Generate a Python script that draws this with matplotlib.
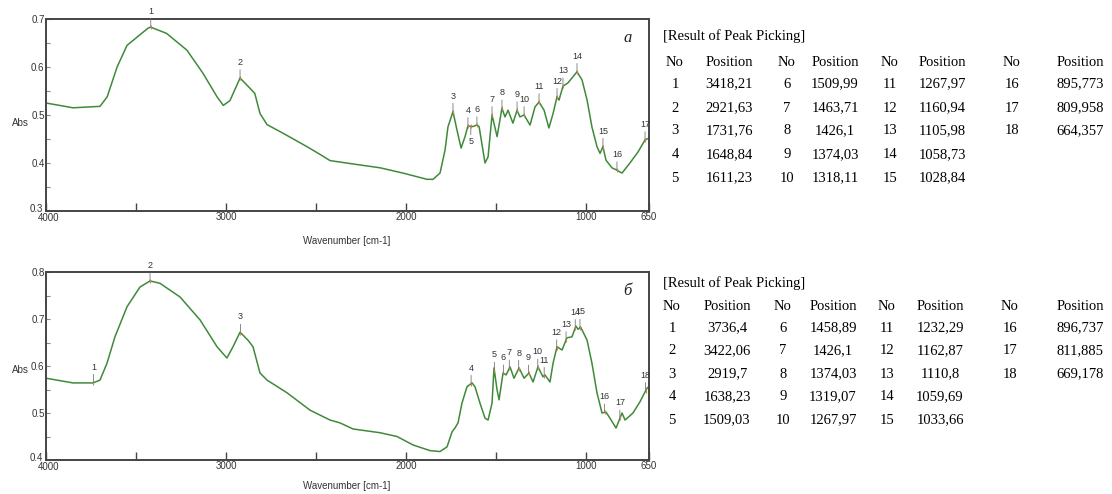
import numpy as np
import matplotlib
matplotlib.use("Agg")
import matplotlib.pyplot as plt
from matplotlib.transforms import ScaledTranslation

# ---------------- data ----------------
wn_a = [4000, 3850, 3700, 3660, 3605, 3550, 3433, 3418, 3330, 3217, 3128, 3050, 3015, 2978,
        2922, 2878, 2840, 2811, 2772, 2683, 2550, 2478, 2422, 2294, 2144, 2017, 1883, 1850,
        1811, 1783, 1767, 1739, 1717, 1694, 1672, 1656, 1628, 1606, 1594, 1561, 1544, 1522,
        1494, 1467, 1450, 1433, 1406, 1383, 1367, 1344, 1311, 1283, 1261, 1233, 1206, 1183,
        1161, 1150, 1128, 1100, 1050, 1022, 994, 967, 939, 922, 906, 889, 856, 828, 800,
        756, 711, 672, 650]
abs_a = [0.525, 0.515, 0.518, 0.538, 0.600, 0.645, 0.681, 0.683, 0.670, 0.635, 0.587, 0.538,
         0.520, 0.530, 0.577, 0.560, 0.545, 0.503, 0.480, 0.462, 0.434, 0.418, 0.405, 0.398,
         0.390, 0.379, 0.366, 0.366, 0.379, 0.427, 0.475, 0.507, 0.469, 0.431, 0.455, 0.477,
         0.476, 0.479, 0.476, 0.400, 0.413, 0.500, 0.455, 0.514, 0.496, 0.510, 0.483, 0.510,
         0.496, 0.500, 0.479, 0.517, 0.527, 0.510, 0.473, 0.503, 0.538, 0.531, 0.560, 0.567,
         0.590, 0.573, 0.531, 0.475, 0.434, 0.420, 0.434, 0.406, 0.390, 0.385, 0.379, 0.400,
         0.423, 0.448, 0.452]

wn_b = [4000, 3850, 3739, 3700, 3661, 3617, 3550, 3478, 3422, 3367, 3256, 3144, 3050, 2995,
        2961, 2922, 2878, 2850, 2811, 2772, 2661, 2533, 2422, 2367, 2294, 2144, 2050, 1961,
        1867, 1811, 1772, 1744, 1728, 1711, 1689, 1661, 1633, 1617, 1589, 1561, 1544, 1522,
        1511, 1494, 1483, 1461, 1444, 1422, 1400, 1372, 1344, 1317, 1294, 1267, 1239, 1228,
        1200, 1183, 1161, 1133, 1106, 1078, 1056, 1044, 1030, 994, 967, 939, 911, 889, 867,
        833, 800, 783, 739, 700, 661, 650]
abs_b = [0.574, 0.564, 0.564, 0.570, 0.606, 0.662, 0.726, 0.768, 0.781, 0.776, 0.747, 0.698,
         0.641, 0.617, 0.641, 0.672, 0.655, 0.641, 0.585, 0.570, 0.543, 0.506, 0.485, 0.479,
         0.466, 0.458, 0.450, 0.432, 0.420, 0.418, 0.428, 0.460, 0.468, 0.479, 0.521, 0.556,
         0.564, 0.556, 0.521, 0.489, 0.485, 0.521, 0.596, 0.549, 0.528, 0.585, 0.581, 0.598,
         0.574, 0.596, 0.574, 0.585, 0.566, 0.598, 0.577, 0.581, 0.566, 0.606, 0.641, 0.634,
         0.660, 0.662, 0.685, 0.678, 0.683, 0.655, 0.606, 0.543, 0.500, 0.502, 0.489, 0.468,
         0.500, 0.485, 0.500, 0.524, 0.553, 0.556]

# peak marks drawn on the spectra (number, wavenumber)
marks_a_no = list(range(1, 18))
marks_a_wn = [3418, 2922, 1739, 1656, 1640, 1606, 1522, 1467, 1383, 1344, 1261, 1161, 1128,
              1050, 906, 828, 672]
marks_b_no = list(range(1, 19))
marks_b_wn = [3736.4, 3422.06, 2919.7, 1638.23, 1509.03, 1458.89, 1426.1, 1374.03, 1319.07,
              1267.97, 1232.29, 1162.87, 1110.8, 1059.69, 1033.66, 896.737, 811.885, 669.178]

# peak-picking tables
tab_a_no = list(range(1, 19))
tab_a_pos = ["3418,21", "2921,63", "1731,76", "1648,84", "1611,23", "1509,99", "1463,71",
             "1426,1", "1374,03", "1318,11", "1267,97", "1160,94", "1105,98", "1058,73",
             "1028,84", "895,773", "809,958", "664,357"]
tab_b_no = list(range(1, 19))
tab_b_pos = ["3736,4", "3422,06", "2919,7", "1638,23", "1509,03", "1458,89", "1426,1",
             "1374,03", "1319,07", "1267,97", "1232,29", "1162,87", "1110,8", "1059,69",
             "1033,66", "896,737", "811,885", "669,178"]

x_ticks = [4000, 3500, 3000, 2500, 2000, 1500, 1000, 650]
x_ticklabels = ["4000", "", "3000", "", "2000", "", "1000", "650"]
y_ticks_a = [0.3, 0.4, 0.5, 0.6, 0.7]
y_ticks_b = [0.4, 0.5, 0.6, 0.7, 0.8]

# ---------------- figure ----------------
W, H = 1112, 494
fig = plt.figure(figsize=(W / 100, H / 100), dpi=100)
fig.patch.set_facecolor("white")

SANS = ["Liberation Sans", "DejaVu Sans"]
SERIF = ["Liberation Serif", "DejaVu Serif"]
LINE = "#3f8a3a"
FRAME = "#444444"


def px_axes(l, t, r, b):
    return fig.add_axes([l / W, 1 - b / H, (r - l) / W, (b - t) / H])


def spectrum(ax, wn, ab, yt, marks_no, marks_wn, below, tag, tag_y):
    ax.plot(wn, ab, color=LINE, lw=1.1, solid_joinstyle="round")
    ax.set_xlim(4000, 650)
    ax.set_ylim(yt[0], yt[-1])
    ax.set_xticks(x_ticks)
    ax.set_xticklabels(x_ticklabels)
    ax.set_yticks(yt)
    ax.set_yticklabels([f"{v:.1f}" for v in yt])
    ax.set_yticks([v + 0.05 for v in yt[:-1]], minor=True)
    ax.tick_params(axis="x", direction="in", length=6, width=1.0, color=FRAME, pad=1,
                   labelsize=7, labelcolor="#333333")
    ax.tick_params(axis="y", which="both", direction="in", length=3, width=0.8, color="#888888",
                   pad=1, labelsize=7, labelcolor="#333333")
    for lab in ax.get_xticklabels() + ax.get_yticklabels():
        lab.set_family(SANS)
    # nudge the corner labels apart a little, as in the reference
    ylabs = ax.get_yticklabels()
    ylabs[0].set_transform(ylabs[0].get_transform() +
                           ScaledTranslation(-2 / 100, 3 / 100, fig.dpi_scale_trans))
    xlabs = ax.get_xticklabels()
    xlabs[0].set_transform(xlabs[0].get_transform() +
                           ScaledTranslation(3 / 100, -1 / 100, fig.dpi_scale_trans))
    for s in ax.spines.values():
        s.set_color(FRAME)
        s.set_linewidth(1.4)
    for n, w in zip(marks_no, marks_wn):
        y = np.interp(-w, -np.array(wn), np.array(ab))
        off = -8 if n in below else 8
        ax.annotate(str(n), xy=(w, y), xytext=(0, off), textcoords="offset points",
                    ha="center", va="top" if n in below else "bottom", fontsize=6.5,
                    family=SANS, color="#333333",
                    arrowprops=dict(arrowstyle="-", color="#777777", lw=0.6,
                                    shrinkA=0, shrinkB=0))
        ax.plot([w], [y], marker="|", ms=3, color="#d9804a", mew=0.8)
    ax.text(0.965, tag_y, tag, transform=ax.transAxes, fontsize=12, style="italic",
            family=SERIF, ha="center", va="center", color="#222222")


ax1 = px_axes(46, 19, 649, 211)
spectrum(ax1, wn_a, abs_a, y_ticks_a, marks_a_no, marks_a_wn, below={5}, tag="a", tag_y=0.9)
ax2 = px_axes(46, 272, 649, 460)
spectrum(ax2, wn_b, abs_b, y_ticks_b, marks_b_no, marks_b_wn, below=set(), tag="б", tag_y=0.9)

for ycen_abs, ywn in ((123, 241), (370, 486)):
    fig.text(20 / W, 1 - ycen_abs / H, "Abs", fontsize=7, family=SANS, ha="center",
             va="center", color="#333333")
    fig.text(347 / W, 1 - ywn / H, "Wavenumber [cm-1]", fontsize=7, family=SANS,
             ha="center", va="center", color="#333333")


def table(nos, pos, title_y, header_y, row_y, col_no, col_pos):
    fs = 10.5
    fig.text(663 / W, 1 - title_y / H, "[Result of Peak Picking]", fontsize=fs, family=SERIF,
             ha="left", va="center", color="#000000")
    for c in range(4):
        fig.text(col_no[c] / W, 1 - header_y / H, "No", fontsize=fs, family=SERIF,
                 ha="center", va="center", color="#000000")
        fig.text(col_pos[c] / W, 1 - header_y / H, "Position", fontsize=fs, family=SERIF,
                 ha="center", va="center", color="#000000")
    for i, (n, p) in enumerate(zip(nos, pos)):
        c, r = divmod(i, 5)
        y = 1 - row_y[r] / H
        fig.text(col_no[c] / W, y, str(n), fontsize=fs, family=SERIF, ha="center",
                 va="center", color="#000000")
        fig.text(col_pos[c] / W, y, p, fontsize=fs, family=SERIF, ha="center",
                 va="center", color="#000000")


table(tab_a_no, tab_a_pos, 36, 63, [84, 108, 131, 155, 178],
      [675, 787, 890, 1012], [729, 835, 942, 1080])
table(tab_b_no, tab_b_pos, 283, 306, [328, 351, 374, 397, 420],
      [672, 783, 887, 1010], [727, 833, 940, 1080])

fig.savefig("out.png", dpi=100, facecolor="white")
